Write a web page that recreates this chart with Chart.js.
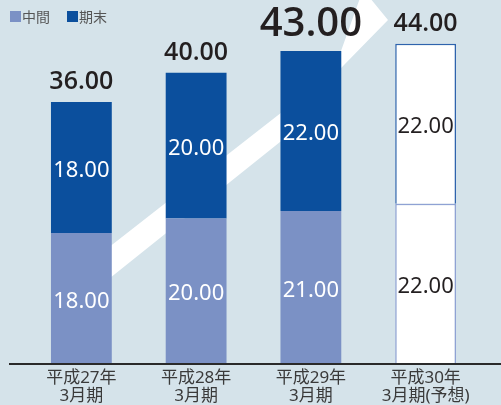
<!DOCTYPE html>
<html>
<head>
<meta charset="utf-8">
<script src="https://cdn.jsdelivr.net/npm/chart.js@4"></script>
<style>
  html, body { margin: 0; padding: 0; background: #d5e3ea; }
  #wrap { width: 501px; height: 405px; }
</style>
</head>
<body>
<div id="wrap"><canvas id="chart"></canvas></div>
<script>
const categories = [['平成27年', '3月期'], ['平成28年', '3月期'], ['平成29年', '3月期'], ['平成30年', '3月期(予想)']];
const interim = [18, 20, 21, 22];
const yearEnd = [18, 20, 22, 22];
const totals = [36, 40, 43, 44];
const seriesNames = ['中間', '期末'];

const LIGHT = '#7b91c5';
const DARK = '#0b4f9d';
const FONT = "'Noto Sans', 'Noto Sans CJK JP', sans-serif";

// background arrow, legend and axis line
const decor = {
    id: 'decor',
    beforeDatasetsDraw(chart) {
        const ctx = chart.ctx;
        ctx.save();
        ctx.fillStyle = '#ffffff';
        ctx.beginPath();
        [[90, 262], [300, 98], [300, 126], [90, 294]].forEach((p, i) => i ? ctx.lineTo(p[0], p[1]) : ctx.moveTo(p[0], p[1]));
        ctx.closePath();
        ctx.fill();
        ctx.beginPath();
        [[300, 125], [341, 51], [360, -2], [370, -2], [388, 20], [300, 110]].forEach((p, i) => i ? ctx.lineTo(p[0], p[1]) : ctx.moveTo(p[0], p[1]));
        ctx.closePath();
        ctx.fill();
        ctx.restore();
    },
    afterDraw(chart) {
        const ctx = chart.ctx;
        const area = chart.chartArea;
        ctx.save();
        // axis line
        ctx.strokeStyle = '#2a2a2a';
        ctx.lineWidth = 2;
        ctx.beginPath();
        ctx.moveTo(9, area.bottom);
        ctx.lineTo(501, area.bottom);
        ctx.stroke();
        // legend
        ctx.font = "14px 'Noto Sans CJK JP', sans-serif";
        ctx.textBaseline = 'middle';
        ctx.textAlign = 'left';
        let x = 10;
        [LIGHT, DARK].forEach((c, i) => {
            ctx.fillStyle = c;
            ctx.fillRect(x, 11, 11, 11);
            ctx.fillStyle = '#555';
            ctx.fillText(seriesNames[i], x + 12, 17);
            x += 57;
        });
        ctx.restore();
    },
    afterDatasetsDraw(chart) {
        const ctx = chart.ctx;
        ctx.save();
        ctx.textAlign = 'center';
        ctx.textBaseline = 'middle';
        chart.data.datasets.forEach((ds, di) => {
            chart.getDatasetMeta(di).data.forEach((bar, i) => {
                const mid = (bar.y + bar.base) / 2;
                ctx.fillStyle = i === 3 ? '#231f20' : '#ffffff';
                ctx.font = '22px ' + FONT;
                ctx.fillText(ds.data[i].toFixed(2), bar.x, mid + 3);
            });
        });
        const top = chart.getDatasetMeta(1).data;
        totals.forEach((t, i) => {
            ctx.fillStyle = '#231f20';
            const big = i === 2;
            ctx.font = '600 ' + (big ? 40 : 25) + "px 'Open Sans', sans-serif";
            ctx.fillText(t.toFixed(2), top[i].x, top[i].y - (big ? 26 : 20));
        });
        ctx.restore();
    }
};

new Chart(document.getElementById('chart'), {
    type: 'bar',
    data: {
        labels: categories,
        datasets: [{
            label: seriesNames[0],
            data: interim,
            backgroundColor: [LIGHT, LIGHT, LIGHT, '#ffffff'],
            borderColor: '#8fa2d4',
            borderWidth: [0, 0, 0, 1.5]
        }, {
            label: seriesNames[1],
            data: yearEnd,
            backgroundColor: [DARK, DARK, DARK, '#ffffff'],
            borderColor: '#2e63ad',
            borderWidth: [0, 0, 0, 1.5]
        }]
    },
    options: {
        responsive: true,
        maintainAspectRatio: false,
        animation: false,
        layout: { padding: { left: 24, right: 18, top: 0, bottom: 0 } },
        datasets: {
            bar: { barPercentage: 0.53, categoryPercentage: 1 }
        },
        plugins: {
            legend: { display: false },
            tooltip: { enabled: false }
        },
        scales: {
            x: {
                stacked: true,
                grid: { display: false, drawTicks: false },
                border: { display: false },
                afterFit: (scale) => { scale.height = 41; },
                ticks: {
                    color: '#3a3a3a',
                    padding: 5,
                    font: { family: FONT, size: 17, lineHeight: 1.05 }
                }
            },
            y: {
                stacked: true,
                display: false,
                min: 0,
                max: 50
            }
        }
    },
    plugins: [decor]
});
</script>
</body>
</html>
